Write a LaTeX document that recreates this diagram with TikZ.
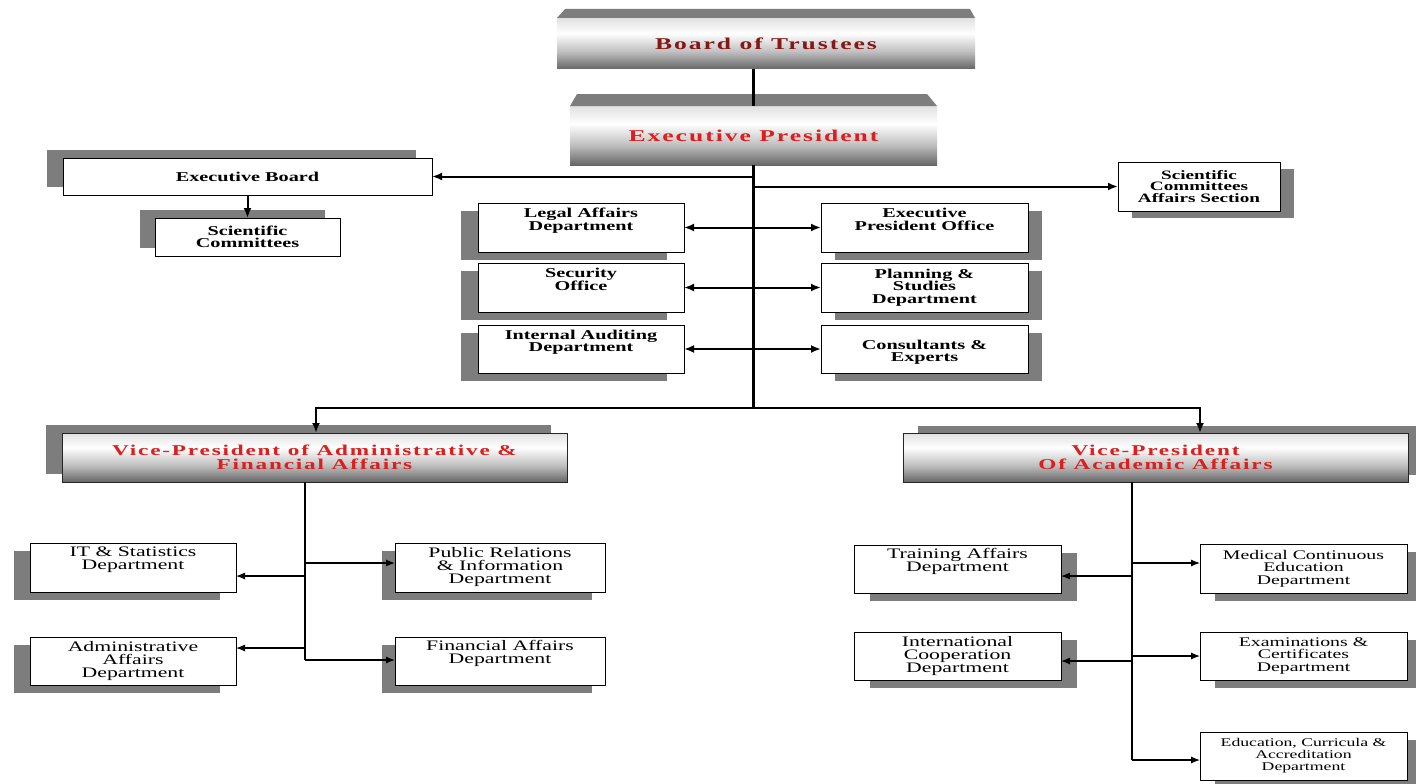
\documentclass[tikz,border=0pt]{standalone}
\usepackage{fontspec}
\setmainfont{Liberation Serif}[FakeStretch=1.5]
\newfontfamily\ttlfont{Liberation Serif}[FakeStretch=1.55,LetterSpace=12]
\usetikzlibrary{shadows,arrows.meta}
\definecolor{shd}{RGB}{125,125,125}
\definecolor{darkred}{RGB}{135,22,22}
\definecolor{brightred}{RGB}{220,30,30}
\pgfdeclareverticalshading{topgrad}{100bp}{color(0bp)=(black!60); color(25bp)=(black!60); color(42bp)=(black!25); color(60bp)=(white); color(75bp)=(black!12); color(100bp)=(black!12)}
\tikzset{
  box/.style={draw=black, line width=0.9pt, fill=white, align=center, inner sep=1pt, outer sep=0pt},
  topbox/.style={shading=topgrad, align=center, inner sep=1pt, outer sep=0pt},
  vpbox/.style={topbox, draw=black!85, line width=1pt},
  sh/.style 2 args={drop shadow={shadow xshift=#1, shadow yshift=#2, fill=shd, opacity=1}},
  midtxt/.style={font=\fontsize{13.5}{12.5}\selectfont\bfseries},
  lowtxt/.style={font=\fontsize{14.5}{13}\selectfont},
  smtxt/.style={font=\fontsize{13.2}{12.5}\selectfont},
  trunkline/.style={line width=3pt, black},
  arr/.style={-{Latex[length=10pt,width=8pt]}, line width=2pt},
  darr/.style={{Latex[length=10pt,width=8pt]}-{Latex[length=10pt,width=8pt]}, line width=2pt},
  tarr/.style={-{Latex[length=9pt,width=7pt]}, line width=1.2pt},
}
\begin{document}
\begin{tikzpicture}[x=1pt,y=-1pt]
\useasboundingbox[fill=white] (0,0) rectangle (1416,784);
\coordinate (trunk) at (753,408);
\coordinate (ta) at (305,660);
\coordinate (tb) at (1132,760);

% top boxes
\node[topbox, minimum width=418pt, minimum height=51pt, text=darkred,
      font=\ttlfont\bfseries\fontsize{16.5}{16}\selectfont] (bt) at (766,43.5) {Board of Trustees};
\fill[shd] (bt.north west) -- ([shift={(8pt,9pt)}]bt.north west) -- ([shift={(-5pt,9pt)}]bt.north east) -- (bt.north east) -- cycle;

\node[topbox, minimum width=367pt, minimum height=59pt, text=brightred,
      font=\ttlfont\bfseries\fontsize{16.5}{16}\selectfont] (ep) at (753.5,135.5) {Executive President};
\fill[shd] (ep.north west) -- ([shift={(7pt,12pt)}]ep.north west) -- ([shift={(-10pt,12pt)}]ep.north east) -- (ep.north east) -- cycle;

% executive board group
\node[box, sh={-16pt}{8pt}, minimum width=369pt, minimum height=37pt, midtxt] (eb) at (247.5,176.5) {Executive Board};
\node[box, sh={-15pt}{8pt}, minimum width=185pt, minimum height=38pt, midtxt] (sc) at (247.5,237) {Scientific\\Committees};
\node[box, sh={14pt}{-7pt}, minimum width=162pt, minimum height=49pt,
      font=\fontsize{12.8}{11.5}\selectfont\bfseries] (sca) at (1199,186.5) {Scientific\\Committees\\Affairs Section};

% middle departments
\node[box, sh={-17pt}{-8pt}, minimum width=206pt, minimum height=49pt, midtxt] (la) at (581,227.5) {Legal Affairs\\Department\\[4pt]};
\node[box, sh={-17pt}{-8pt}, minimum width=206pt, minimum height=49pt, midtxt] (so) at (581,287.5) {Security\\Office\\[4pt]};
\node[box, sh={-17pt}{-8pt}, minimum width=206pt, minimum height=48pt, midtxt] (ia) at (581,349) {Internal Auditing\\Department\\[4pt]};
\node[box, sh={14pt}{-8pt}, minimum width=207pt, minimum height=49pt, midtxt] (epo) at (924.5,227.5) {Executive\\President Office\\[4pt]};
\node[box, sh={14pt}{-8pt}, minimum width=207pt, minimum height=49pt, midtxt] (ps) at (924.5,287.5) {Planning \&\\Studies\\Department};
\node[box, sh={14pt}{-8pt}, minimum width=207pt, minimum height=48pt, midtxt] (ce) at (924.5,349) {\\[3pt]Consultants \&\\Experts};

% vice presidents
\node[vpbox, sh={-16pt}{8pt}, minimum width=505pt, minimum height=49pt, text=brightred,
      font=\ttlfont\bfseries\fontsize{15}{14}\selectfont] (vpa) at (314.5,457.5) {Vice-President of Administrative \&\\Financial Affairs};
\node[vpbox, sh={15pt}{7pt}, minimum width=505pt, minimum height=49pt, text=brightred,
      font=\ttlfont\bfseries\fontsize{15}{14}\selectfont] (vpb) at (1155.5,457.5) {Vice-President\\Of Academic Affairs};

% bottom left
\node[box, sh={-16pt}{-8pt}, minimum width=206pt, minimum height=49pt, lowtxt] (it) at (133,567.5) {IT \& Statistics\\Department\\[6pt]};
\node[box, sh={-16pt}{-8pt}, minimum width=206pt, minimum height=48pt, lowtxt] (ad) at (133,661) {Administrative\\Affairs\\Department};
\node[box, sh={-13pt}{-8pt}, minimum width=210pt, minimum height=49pt, lowtxt] (pr) at (500,567.5) {Public Relations\\\& Information\\Department};
\node[box, sh={-13pt}{-8pt}, minimum width=210pt, minimum height=48pt, lowtxt] (fin) at (500,661) {Financial Affairs\\Department\\[6pt]};

% bottom right
\node[box, sh={16pt}{-8pt}, minimum width=207pt, minimum height=48pt, lowtxt] (tr) at (957.5,569) {Training Affairs\\Department\\[6pt]};
\node[box, sh={16pt}{-8pt}, minimum width=207pt, minimum height=48pt, lowtxt] (ic) at (957.5,656) {International\\Cooperation\\Department};
\node[box, sh={15pt}{-8pt}, minimum width=207pt, minimum height=49pt, smtxt] (mc) at (1303.5,568.5) {Medical Continuous\\Education\\Department};
\node[box, sh={15pt}{-8pt}, minimum width=207pt, minimum height=48pt, smtxt] (ex) at (1303.5,656) {Examinations \&\\Certificates\\Department};
\node[box, sh={15pt}{-8pt}, minimum width=207pt, minimum height=48pt,
      font=\fontsize{11.8}{12}\selectfont] (edu) at (1303.5,756) {Education, Curricula \&\\Accreditation\\Department};

% connectors
\draw[trunkline] (bt.south -| trunk) -- (ep.north -| trunk);
\draw[trunkline] (ep.south -| trunk) -- ([yshift=-1pt]trunk);
\draw[arr] (eb.east -| trunk) -- (eb.east);
\draw[arr] (sca.west -| trunk) -- (sca.west);
\draw[arr] (eb.south) -- (sc.north);
\draw[darr] (la.east) -- (epo.west);
\draw[darr] (so.east) -- (ps.west);
\draw[darr] (ia.east) -- (ce.west);
\draw[arr] (trunk) -| ([xshift=1.5pt]vpa.north);
\draw[arr] (trunk) -| ([xshift=44.5pt]vpb.north);

% admin branch
\draw[line width=1.2pt] (vpa.south -| ta) -- (ta);
\draw[tarr] (ta) -- (fin.west |- ta);
\draw[tarr] ([yshift=-8.5pt]it.east -| ta) -- ([yshift=-8.5pt]it.east);
\draw[tarr] ([yshift=4.5pt]pr.west -| ta) -- ([yshift=4.5pt]pr.west);
\draw[tarr] ([yshift=13pt]ad.east -| ta) -- ([yshift=13pt]ad.east);

% academic branch
\draw[line width=1.2pt] (vpb.south -| tb) -- (tb);
\draw[tarr] (tb) -- (edu.west |- tb);
\draw[tarr] ([yshift=-7pt]tr.east -| tb) -- ([yshift=-7pt]tr.east);
\draw[tarr] ([yshift=5.5pt]mc.west -| tb) -- ([yshift=5.5pt]mc.west);
\draw[tarr] ([yshift=-5pt]ic.east -| tb) -- ([yshift=-5pt]ic.east);
\draw[tarr] (ex.west -| tb) -- (ex.west);
\end{tikzpicture}
\end{document}
